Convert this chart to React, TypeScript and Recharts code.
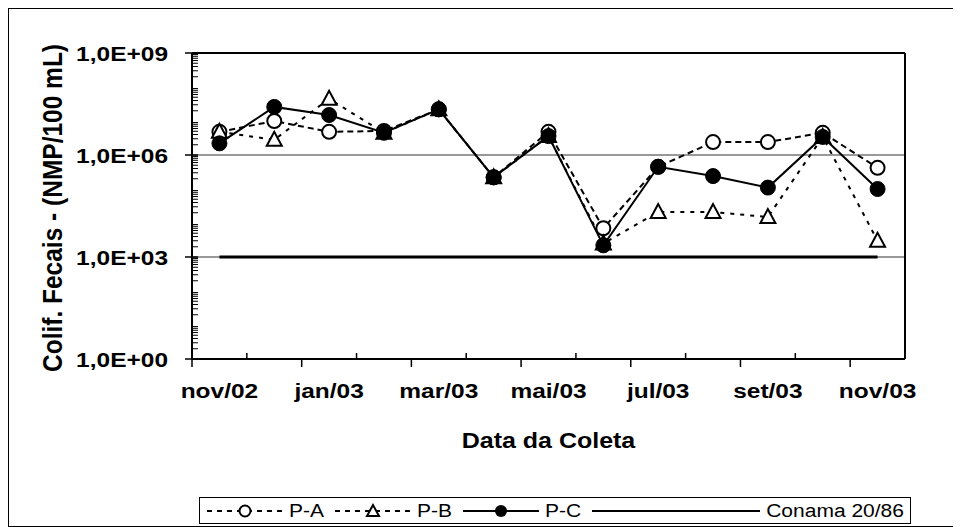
import { LineChart, Line, XAxis, YAxis, ReferenceLine, Legend, Label } from 'recharts';

const months = ['nov/02', 'dez/02', 'jan/03', 'fev/03', 'mar/03', 'abr/03', 'mai/03', 'jun/03', 'jul/03', 'ago/03', 'set/03', 'out/03', 'nov/03'];
const pA = [4.8e6, 1.0e7, 4.8e6, 5.1e6, 2.2e7, 2.2e5, 4.8e6, 7.0e3, 4.5e5, 2.4e6, 2.4e6, 4.5e6, 4.2e5];
const pB = [4.8e6, 2.8e6, 4.5e7, 4.5e6, 2.2e7, 2.2e5, 3.6e6, 2.5e3, 2.1e4, 2.1e4, 1.5e4, 3.4e6, 3.0e3];
const pC = [2.2e6, 2.6e7, 1.5e7, 4.5e6, 2.2e7, 2.2e5, 3.6e6, 2.2e3, 4.5e5, 2.4e5, 1.1e5, 3.4e6, 1.0e5];
const conamaLimit = 1000;
const yMajor = [1, 1e3, 1e6, 1e9];

const data = months.map((m, i) => ({ idx: i, month: m, pA: pA[i], pB: pB[i], pC: pC[i], conama: conamaLimit }));

// log minor ticks 2..9 x 10^k
const yMinor: number[] = [];
for (let k = 0; k < 9; k++) for (let m = 2; m < 10; m++) yMinor.push(m * Math.pow(10, k));
const yTicks = [...yMajor, ...yMinor];

// labels at category centres, tick marks on category boundaries
const xTicks = [...months.map((_, i) => i), ...months.map((_, i) => i - 0.5)].sort((a, b) => a - b);

const FONT = "'Liberation Sans', Arial, sans-serif";
const SQ = 0.86;

function SqText({ x, y, anchor = 'start', bold = false, size = 24, children }: any) {
  return (
    <text
      transform={`translate(${x},${y}) scale(1,${SQ})`}
      textAnchor={anchor}
      fontFamily={FONT}
      fontWeight={bold ? 'bold' : 'normal'}
      fontSize={size}
      fill="#000"
    >
      {children}
    </text>
  );
}

const fmtExp = (v: number) => {
  const e = Math.round(Math.log10(v));
  return '1,0E+' + String(e).padStart(2, '0');
};

function XTick({ x, y, payload }: any) {
  const v = payload.value;
  if (Number.isInteger(v)) {
    if (v % 2) return <g />;
    return <SqText x={x} y={y + 39} anchor="middle" bold size={24.5}>{months[v]}</SqText>;
  }
  const k = Math.round(v + 0.5);
  if (k % 2 === 0) return <line x1={x} x2={x} y1={y} y2={y + 8} stroke="#000" strokeWidth={1.5} />;
  return <line x1={x} x2={x} y1={y} y2={y - 6} stroke="#000" strokeWidth={1.5} />;
}

function YTick({ x, y, payload }: any) {
  const v = payload.value;
  if (yMajor.includes(v)) {
    return (
      <g>
        <line x1={x - 7} x2={x + 6} y1={y} y2={y} stroke="#000" strokeWidth={1.5} />
        <SqText x={x - 24} y={y + 7.5} anchor="end" bold size={24.5}>{fmtExp(v)}</SqText>
      </g>
    );
  }
  return <line x1={x} x2={x + 6} y1={y} y2={y} stroke="#000" strokeWidth={1} />;
}

const openCircle = (p: any) => (
  <circle key={`a${p.index}`} cx={p.cx} cy={p.cy} r={7} fill="#fff" stroke="#000" strokeWidth={2} />
);
const filledCircle = (p: any) => (
  <circle key={`c${p.index}`} cx={p.cx} cy={p.cy} r={7.5} fill="#000" stroke="#000" strokeWidth={1} />
);
const triangle = (p: any) => (
  <polygon
    key={`b${p.index}`}
    points={`${p.cx},${p.cy - 8} ${p.cx - 7.5},${p.cy + 6} ${p.cx + 7.5},${p.cy + 6}`}
    fill="#fff"
    stroke="#000"
    strokeWidth={2}
  />
);

const legendItems = [
  { name: 'P-A', dash: '5 5', marker: 'open', len: 76 },
  { name: 'P-B', dash: '5 5', marker: 'tri', len: 76 },
  { name: 'P-C', dash: undefined, marker: 'fill', len: 76 },
  { name: 'Conama 20/86', dash: undefined, marker: 'none', len: 168 },
];

function LegendBox() {
  return (
    <div
      style={{
        width: 712,
        height: 27,
        border: '1px solid #000',
        display: 'flex',
        alignItems: 'center',
        paddingLeft: 7,
        boxSizing: 'border-box',
        fontFamily: FONT,
        fontSize: 21,
        whiteSpace: 'nowrap',
        overflow: 'hidden',
      }}
    >
      {legendItems.map((it) => (
        <div key={it.name} style={{ display: 'flex', alignItems: 'center', marginRight: 11, flexShrink: 0 }}>
          <svg width={it.len} height={20} style={{ flexShrink: 0 }}>
            <line x1={0} x2={it.len} y1={10} y2={10} stroke="#000" strokeWidth={2} strokeDasharray={it.dash} />
            {it.marker === 'open' && <circle cx={it.len / 2} cy={10} r={5.5} fill="#fff" stroke="#000" strokeWidth={2} />}
            {it.marker === 'fill' && <circle cx={it.len / 2} cy={10} r={6} fill="#000" />}
            {it.marker === 'tri' && (
              <polygon points={`${it.len / 2},4 ${it.len / 2 - 6},15 ${it.len / 2 + 6},15`} fill="#fff" stroke="#000" strokeWidth={2} />
            )}
          </svg>
          <span style={{ marginLeft: 6, display: 'inline-block', whiteSpace: 'nowrap', transform: `scaleY(${SQ})` }}>{it.name}</span>
        </div>
      ))}
    </div>
  );
}

const YTitle = ({ viewBox }: any) => {
  const cx = viewBox.x + 43;
  const cy = viewBox.y + viewBox.height / 2 + 2;
  return (
    <text
      transform={`translate(${cx},${cy}) rotate(-90) scale(${SQ},1)`}
      textAnchor="middle"
      dominantBaseline="central"
      fontFamily={FONT}
      fontWeight="bold"
      fontSize={28.5}
      fill="#000"
    >
      Colif. Fecais - (NMP/100 mL)
    </text>
  );
};

const XTitle = ({ viewBox }: any) => (
  <SqText x={viewBox.x + viewBox.width / 2} y={viewBox.y + 89} anchor="middle" bold size={25}>
    Data da Coleta
  </SqText>
);

export default function App() {
  return (
    <div style={{ width: 951, height: 517, border: '1px solid #000', background: '#fff' }}>
      <LineChart width={951} height={517} data={data} margin={{ top: 44, right: 55, left: 0, bottom: 2 }}>
        <XAxis
          dataKey="idx"
          type="number"
          domain={[-0.5, 12.5]}
          ticks={xTicks}
          interval={0}
          allowDecimals
          height={138}
          tickSize={0}
          tickMargin={0}
          tickLine={false}
          tick={<XTick />}
          axisLine={{ stroke: '#000', strokeWidth: 2 }}
          label={<Label content={XTitle} />}
        />
        <YAxis
          type="number"
          scale="log"
          domain={[1, 1e9]}
          allowDataOverflow
          ticks={yTicks}
          interval={0}
          width={183}
          tickSize={0}
          tickMargin={0}
          tickLine={false}
          tick={<YTick />}
          axisLine={{ stroke: '#000', strokeWidth: 2 }}
          label={<Label content={YTitle} />}
        />
        <ReferenceLine y={1e6} stroke="#333" strokeWidth={1} />
        <ReferenceLine y={1e3} stroke="#333" strokeWidth={1} />
        <ReferenceLine y={1e9} stroke="#000" strokeWidth={2} />
        <ReferenceLine x={12.5} stroke="#000" strokeWidth={2} />
        <Legend
          verticalAlign="bottom"
          align="left"
          height={27}
          wrapperStyle={{ left: 190, bottom: 2, width: 712, height: 27 }}
          content={<LegendBox />}
        />
        <Line dataKey="pA" name="P-A" stroke="#000" strokeWidth={2} strokeDasharray="6 4" dot={openCircle} isAnimationActive={false} />
        <Line dataKey="pB" name="P-B" stroke="#000" strokeWidth={2} strokeDasharray="4 6" dot={triangle} isAnimationActive={false} />
        <Line dataKey="pC" name="P-C" stroke="#000" strokeWidth={2} dot={filledCircle} isAnimationActive={false} />
        <Line dataKey="conama" name="Conama 20/86" stroke="#000" strokeWidth={3} dot={false} isAnimationActive={false} />
      </LineChart>
    </div>
  );
}
